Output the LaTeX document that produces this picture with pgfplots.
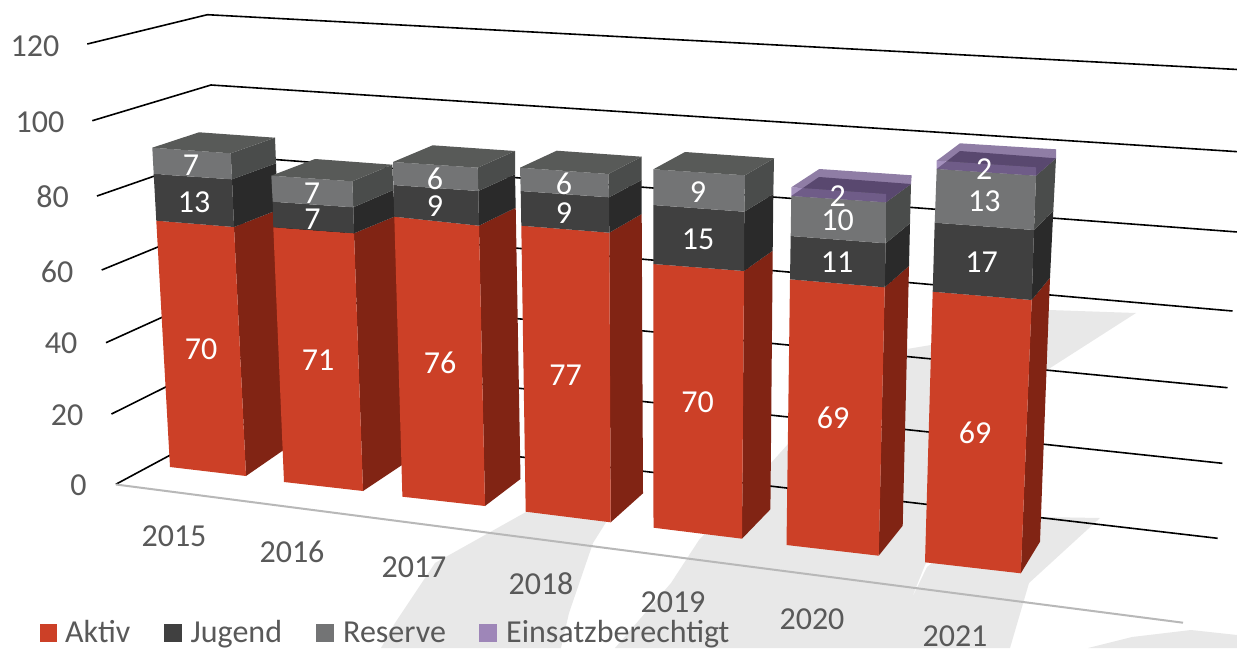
\documentclass[border=0pt]{standalone}
\usepackage{pgfplots}
\pgfplotsset{compat=1.18}
\usepackage{fontspec}
\setmainfont{Carlito}
\definecolor{ak}{HTML}{CC4027}
\definecolor{aks}{HTML}{812414}
\definecolor{ju}{HTML}{404040}
\definecolor{jus}{HTML}{2A2A2A}
\definecolor{re}{HTML}{737475}
\definecolor{res}{HTML}{4A4C4B}
\definecolor{ret}{HTML}{585A58}
\definecolor{pu}{HTML}{5A407B}
\definecolor{puf}{HTML}{7A5D9F}
\definecolor{leg}{HTML}{9E86B8}
\definecolor{txt}{HTML}{595959}
\definecolor{wm}{HTML}{E8E8E8}
\newcommand\Fc[2]{\addplot[fill=#1,draw=none,forget plot] coordinates {#2} --cycle;}
\newcommand\Pc[2]{\addplot[fill=#1,fill opacity=0.68,draw=none,forget plot] coordinates {#2} --cycle;}
\newcommand\Gl[2]{\addplot[black,line width=1.6pt,forget plot] coordinates {#1 #2};}
\newcommand\Dl[2]{\node[white,inner sep=0pt,anchor=center,font=\fontsize{32}{32}\selectfont] at (axis cs:#1) {#2};}
\newcommand\Tl[2]{\node[txt,inner sep=0pt,anchor=center,font=\fontsize{32}{32}\selectfont] at (axis cs:#1) {#2};}
\newcommand\Lg[2]{\node[txt,inner sep=0pt,anchor=base west,font=\fontsize{32}{32}\selectfont] at (axis cs:#1) {#2};}
\begin{document}
\begin{tikzpicture}
\begin{axis}[scale only axis,width=1237pt,height=648pt,xmin=0,xmax=1237,ymin=0,ymax=648,y dir=reverse,hide axis,clip=true]
% page background
\Fc{white}{(0,0)(1237,0)(1237,648)(0,648)}
% watermark
\Fc{wm}{(600,500)(526,512)(435,563)(395,623)(381,648)(561,648)(569,613)(593,543)(620,500)}
\Fc{wm}{(1136,313)(1049,310)(931,345)(907,349)(789,443)(771,463)(699,540)(671,583)(615,648)(1010,648)(1029,583)(1100,518)(1041,517)(960,540)(927,567)(911,600)(925,565)(1047,370)}
\Fc{wm}{(1088,648)(1132,637)(1191,630)(1237,635)(1237,648)}
% gridlines: value 120 down to 0
\Gl{(87.3,44)(207.3,14.7)}{(1247,70)}
\Gl{(92.3,120.7)(211,85)}{(1242.5,152)}
\Gl{(97,196)(215,155)}{(1237.5,232)}
\Gl{(101.7,270)(219,222)}{(1232.5,311)}
\Gl{(106,342.7)(222.4,290)}{(1227.5,387.7)}
\Gl{(111.5,414)(226,357)}{(1222.4,463.3)}
\Gl{(115.8,484.3)(230,423)}{(1217.6,538.3)}
\addplot[color=black!28,line width=2pt,forget plot] coordinates {(116,484.5)(1183,622.7)};
% 2015: 70 13 7
\Fc{aks}{(234,227)(277.5,210)(288,447)(246,476)}
\Fc{ak}{(156.3,220.7)(234,227)(246,476)(170,467)}
\Fc{jus}{(232,179.3)(276,163.3)(277.5,210)(234,227)}
\Fc{ju}{(153.7,174)(232,179.3)(234,227)(156.3,220.7)}
\Fc{res}{(230.7,153.3)(275,137.7)(276,163.3)(232,179.3)}
\Fc{re}{(152.3,147.7)(230.7,153.3)(232,179.3)(153.7,174)}
\Fc{ret}{(152.3,147.7)(199,132.3)(275,137.7)(230.7,153.3)}
% 2016: 71 7 7
\Fc{aks}{(354,233.3)(395,216.4)(405,463)(363,491)}
\Fc{ak}{(273.3,227.3)(354,233.3)(363,491)(284,482)}
\Fc{jus}{(353.3,207.3)(393.3,190)(395,216.4)(354,233.3)}
\Fc{ju}{(272.7,201.7)(353.3,207.3)(354,233.3)(273.3,227.3)}
\Fc{res}{(352.3,181.3)(392.3,164.7)(393.3,190)(353.3,207.3)}
\Fc{re}{(271.3,175.7)(352.3,181.3)(353.3,207.3)(272.7,201.7)}
\Fc{ret}{(271.3,175.7)(315,159)(392.3,164.7)(352.3,181.3)}
% 2017: 76 9 6
\Fc{aks}{(479,225.7)(515.7,207.7)(520.5,479)(485,506)}
\Fc{ak}{(394.3,216.7)(479,225.7)(485,506)(402.4,496.7)}
\Fc{jus}{(478.3,191)(515,174.3)(515.7,207.7)(479,225.7)}
\Fc{ju}{(393.3,185)(478.3,191)(479,225.7)(394.3,216.7)}
\Fc{res}{(477.7,167.7)(515,151)(515,174.3)(478.3,191)}
\Fc{re}{(393,162)(477.7,167.7)(478.3,191)(393.3,185)}
\Fc{ret}{(393,162)(432.7,145.3)(515,151)(477.7,167.7)}
% 2018: 77 9 6
\Fc{aks}{(609.3,232.7)(641.7,214)(643,493.3)(610.7,522.3)}
\Fc{ak}{(521.3,225.7)(609.3,232.7)(610.7,522.3)(525.7,511.7)}
\Fc{jus}{(609,197.3)(641.7,180)(641.7,214)(609.3,232.7)}
\Fc{ju}{(520.7,191)(609,197.3)(609.3,232.7)(521.3,225.7)}
\Fc{res}{(608.3,174)(641.7,156.7)(641.7,180)(609,197.3)}
\Fc{re}{(520,167.7)(608.3,174)(609,197.3)(520.7,191)}
\Fc{ret}{(520,167.7)(556.7,150.7)(641.7,156.7)(608.3,174)}
% 2019: 70 15 9
\Fc{aks}{(744,271)(772.7,250.7)(770.4,509.3)(742,538.7)}
\Fc{ak}{(653.3,264)(744,271)(742,538.7)(653.5,527.7)}
\Fc{jus}{(744.3,211.7)(773.3,194)(772.7,250.7)(744,271)}
\Fc{ju}{(653.3,205)(744.3,211.7)(744,271)(653.3,264)}
\Fc{res}{(745,175.3)(774,158.3)(773.3,194)(744.3,211.7)}
\Fc{re}{(653.3,169.3)(745,175.3)(744.3,211.7)(653.3,205)}
\Fc{ret}{(653.3,169.3)(685,152)(774,158.3)(745,175.3)}
% 2020: 69 11 10 2
\Fc{aks}{(884.7,287.3)(909,266)(902.7,525.7)(878.7,555.7)}
\Fc{ak}{(790,279.3)(884.7,287.3)(878.7,555.7)(786.5,545)}
\Fc{jus}{(885.7,243.3)(910,223.3)(909,266)(884.7,287.3)}
\Fc{ju}{(790.7,236)(885.7,243.3)(884.7,287.3)(790,279.3)}
\Fc{res}{(886,202.3)(911,184)(910,223.3)(885.7,243.3)}
\Fc{re}{(791.3,196)(886,202.3)(885.7,243.3)(790.7,236)}
\Fc{ret}{(791.3,196)(819,177)(911,184)(886,202.3)}
\Pc{pu}{(791.3,187.3)(819.3,169)(911.7,175.3)(886,194)}
\Pc{pu}{(886,194)(911.7,175.3)(911,184)(886,202.3)}
\Pc{puf}{(791.3,187.3)(886,194)(886,202.3)(791.3,196)}
% 2021: 69 17 13 2
\Fc{aks}{(1031.7,300)(1050,277.7)(1040,541.7)(1020.8,573.3)}
\Fc{ak}{(932.7,291.7)(1031.7,300)(1020.8,573.3)(925,562.3)}
\Fc{jus}{(1034,230)(1053.3,210.7)(1050,277.7)(1031.7,300)}
\Fc{ju}{(934.7,222.7)(1034,230)(1031.7,300)(932.7,291.7)}
\Fc{res}{(1036,175.7)(1056,158.3)(1053.3,210.7)(1034,230)}
\Fc{re}{(936.7,169)(1036,175.7)(1034,230)(934.7,222.7)}
\Fc{ret}{(936.7,169)(960,151)(1056,158.3)(1036,175.7)}
\Pc{pu}{(936.7,160.7)(960,143.3)(1056,149.3)(1036,167.3)}
\Pc{pu}{(1036,167.3)(1056,149.3)(1056,158.3)(1036,175.7)}
\Pc{puf}{(936.7,160.7)(1036,167.3)(1036,175.7)(936.7,169)}
% legend swatches
\Fc{ak}{(39.5,624)(57.3,624)(57.3,642)(39.5,642)}
\Fc{ju}{(164,624)(182,624)(182,642)(164,642)}
\Fc{re}{(316,624)(334,624)(334,642)(316,642)}
\Fc{leg}{(479,624)(497,624)(497,642)(479,642)}
% value labels
\Dl{201,349}{70}\Dl{194,202}{13}\Dl{191,165}{7}
\Dl{318,360}{71}\Dl{312.5,219}{7}\Dl{312,193}{7}
\Dl{440,363}{76}\Dl{435,206}{9}\Dl{435,178.7}{6}
\Dl{565.7,375}{77}\Dl{564,213}{9}\Dl{564,184}{6}
\Dl{697.7,402}{70}\Dl{698,239}{15}\Dl{698,192}{9}
\Dl{833,418}{69}\Dl{837,262}{11}\Dl{837.7,220}{10}\Dl{837.7,196}{2}
\Dl{975,433}{69}\Dl{981.7,262}{17}\Dl{984.3,201.7}{13}\Dl{984.3,169.3}{2}
% value axis labels
\Tl{35,46}{120}\Tl{40,122}{100}\Tl{52.5,197}{80}\Tl{57,272}{60}\Tl{61,343}{40}\Tl{67,415}{20}\Tl{78.5,485}{0}
% category labels
\Tl{174,536}{2015}\Tl{292,552}{2016}\Tl{414,567}{2017}\Tl{541,584}{2018}\Tl{673,602}{2019}\Tl{812,619}{2020}\Tl{955,636.5}{2021}
% legend texts
\Lg{65,642}{Aktiv}\Lg{190.5,642}{Jugend}\Lg{343,642}{Reserve}\Lg{506,642}{Einsatzberechtigt}
\end{axis}
\end{tikzpicture}
\end{document}
